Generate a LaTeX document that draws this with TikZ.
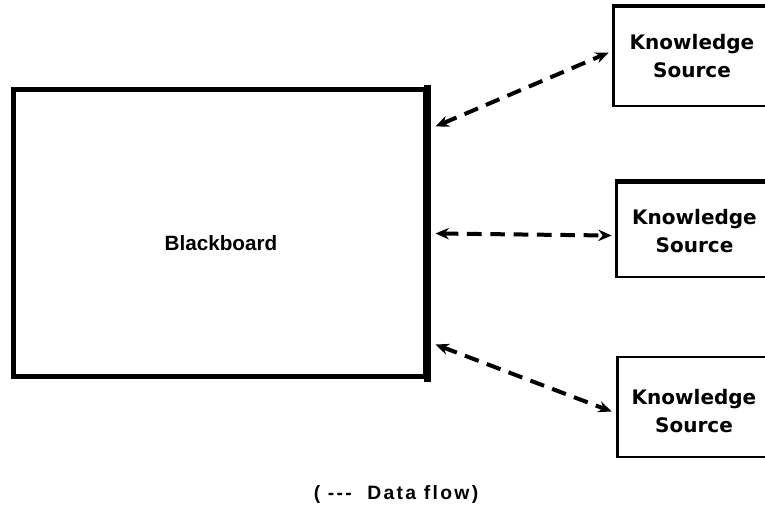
\documentclass[tikz,border=0pt]{standalone}
\usepackage{fontspec}
\setmainfont{Liberation Sans}
\newfontfamily\ksfont{DejaVu Sans}
\newfontfamily\notefont[LetterSpace=12]{Liberation Sans}
\usetikzlibrary{arrows.meta,calc}

\tikzset{
  board/.style={draw, line width=3.75pt, inner sep=0pt,
    minimum width=309pt, minimum height=215.25pt},
  ksbox/.style={draw, line width=2.2pt, inner sep=0pt,
    minimum width=140pt, minimum height=74.25pt},
  kstext/.style={font=\ksfont\bfseries\fontsize{15}{21}\selectfont,
    align=center, inner sep=0pt},
  flow/.style={line width=3pt, dash pattern=on 11pt off 6.5pt,
    {Stealth[length=10pt,width=8.5pt]}-{Stealth[length=10pt,width=8.5pt]}},
}

\begin{document}
\begin{tikzpicture}[x=0.75pt,y=-0.75pt]
\clip (0,0) rectangle (765,513);

% the blackboard, with its heavier right side
\node[board] (bb) at (219,233.5) {};
\draw[line width=5.25pt] ($(bb.north east)+(0,-2.5)$) -- ($(bb.south east)+(0,2.5)$);
\node[font=\bfseries\fontsize{15.5}{18}\selectfont, inner sep=0pt] (bblabel) at (221,243) {Blackboard};

% knowledge sources (open to the right edge)
\node[ksbox] (ks1) at (706.5,56.5) {};
\draw[line width=3pt] (ks1.north west) -- (ks1.north east);
\node[kstext] (ks1t) at (692,56) {Knowledge\\Source};

\node[ksbox, minimum height=70.5pt] (ks2) at (709.5,230) {};
\draw[line width=3.5pt] (ks2.north west) -- (ks2.north east);
\node[kstext] (ks2t) at (694.5,231) {Knowledge\\Source};

\node[ksbox, minimum height=75pt] (ks3) at (710.5,407) {};
\node[kstext] (ks3t) at (694,411) {Knowledge\\Source};

% data flow between the blackboard and each source
\draw[flow] ($(bb.north east)+(8,39)$) -- ($(ks1.north west)+(-3,47)$);
\draw[flow] ($(bb.north east)+(8,146)$) -- ($(ks2.north west)+(-3,54)$);
\draw[flow] ($(bb.north east)+(8,257)$) -- ($(ks3.north west)+(-4,56)$);

% key
\node[font=\notefont\bfseries\fontsize{14.5}{17}\selectfont, inner sep=0pt] (key) at (396,495) {( -{}-{}-\ \ Data flow)};
\end{tikzpicture}
\end{document}
